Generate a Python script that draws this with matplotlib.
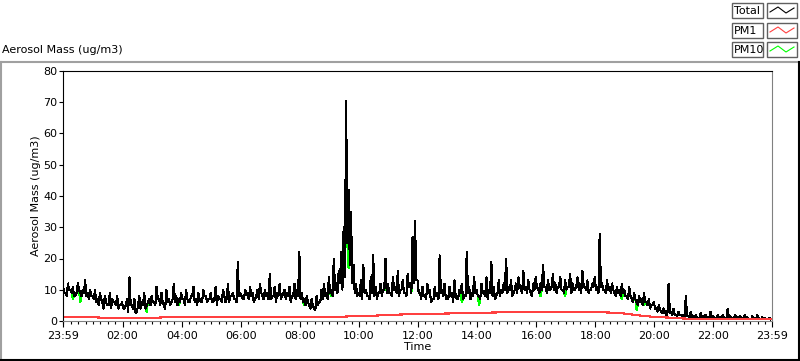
import numpy as np
import matplotlib
matplotlib.use("Agg")
import matplotlib.pyplot as plt
from matplotlib.patches import Rectangle
from matplotlib.lines import Line2D

# Total aerosol mass, readings every 5 minutes from 23:59 (12 per hour)
total_a = [
    11, 9, 12, 10, 11, 8, 12, 9, 10, 13, 9, 10,
    8, 10, 7, 9, 6, 8, 5, 9, 7, 6, 8, 5,
    6, 4, 7, 14, 5, 7, 3, 8, 6, 9, 5, 7,
    8, 6, 11, 7, 9, 5, 10, 7, 6, 12, 8, 7,
    9, 7, 10, 6, 8, 11, 7, 9, 6, 10, 8, 7,
    9, 6, 11, 8, 7, 10, 6, 12, 8, 9, 7, 19,
    9, 7, 10, 8, 11, 9, 7, 10, 12, 8, 10, 9,
    15, 8, 11, 9, 12, 8, 10, 9, 11, 8, 12, 10,
    22, 9, 7, 8, 5, 7, 4, 8, 6, 10, 12, 9,
    14, 10, 20, 12, 16, 22, 30, 70.5, 42, 35, 18, 12,
    9, 13, 18, 10, 8, 14, 21, 11, 9, 12, 10, 20,
    12, 9, 14, 11, 16, 10, 13, 9, 15, 12, 27, 32,
    13, 9, 11, 8, 12, 10, 7, 11, 9, 21, 10, 12,
    8, 11, 9, 13, 7, 10, 12, 8, 22, 11, 9, 14,
    10, 8, 12, 9, 14, 10, 19, 11, 8, 13, 10, 12,
    20, 11, 13, 9, 12, 14, 10, 16, 11, 13, 9, 12,
    14, 10, 12, 18, 11, 13, 10, 15, 12, 11, 14, 10,
    13, 11, 15, 12, 10, 14, 12, 16, 11, 13, 10, 12,
    14, 11, 28, 12, 10, 13, 11, 12, 9, 11, 10, 12,
    10, 8, 11, 7, 9, 6, 8, 7, 9, 6, 7, 5,
    6, 4, 5, 3, 4, 2, 12, 3, 4, 2, 3, 2,
    2, 8, 1.5, 3, 1.5, 2, 1, 2.5, 1.5, 2, 1, 3,
    1.5, 1, 2, 1.2, 1.8, 1, 4, 1.5, 1, 2, 1.2, 1.5,
    1, 2, 1.2, 0.8, 1.5, 1, 2, 0.8, 1.2, 1, 0.8, 1,
]

# readings taken 2.5 minutes after each of the above
total_b = [
    9, 8, 10, 9, 8, 9, 10, 8, 9, 8, 7, 8,
    7, 6, 5, 7, 4, 6, 5, 4, 6, 5, 4, 5,
    4, 5, 3, 5, 4, 2.5, 5, 4, 5, 4, 6, 5,
    6, 5, 7, 5, 6, 4, 6, 5, 7, 6, 5, 6,
    7, 5, 7, 6, 8, 6, 5, 7, 6, 8, 6, 7,
    6, 7, 5, 7, 6, 8, 7, 6, 8, 7, 6, 8,
    8, 7, 9, 7, 8, 6, 8, 7, 9, 7, 8, 7,
    7, 8, 6, 8, 7, 9, 7, 8, 6, 8, 7, 8,
    7, 6, 5, 6, 4, 5, 3.5, 5, 6, 7, 8, 7,
    9, 8, 10, 9, 12, 10, 14, 25, 18, 12, 9, 8,
    8, 7, 9, 8, 7, 9, 8, 7, 9, 8, 10, 9,
    9, 8, 10, 9, 8, 10, 9, 8, 11, 9, 12, 13,
    9, 7, 8, 7, 9, 6, 7, 8, 7, 9, 8, 7,
    7, 8, 6, 8, 7, 9, 7, 8, 9, 7, 8, 9,
    8, 7, 9, 8, 7, 9, 8, 7, 9, 8, 9, 10,
    9, 10, 8, 10, 9, 11, 9, 10, 9, 10, 8, 10,
    11, 9, 10, 11, 9, 10, 11, 10, 9, 11, 10, 9,
    10, 11, 9, 10, 11, 10, 9, 11, 10, 9, 10, 11,
    10, 9, 11, 10, 9, 10, 9, 10, 8, 9, 8, 9,
    8, 7, 8, 6, 7, 5, 6, 5, 6, 5, 4, 5,
    4, 3, 3.5, 2.5, 3, 2, 2.5, 2, 1.8, 1.5, 1.8, 1.5,
    1.2, 1.5, 1, 1.3, 0.9, 1.2, 0.8, 1.1, 0.9, 1.2, 0.8, 1,
    0.9, 0.7, 1, 0.8, 0.9, 0.7, 1, 0.8, 0.7, 0.9, 0.6, 0.8,
    0.7, 0.8, 0.6, 0.5, 0.7, 0.6, 0.8, 0.5, 0.6, 0.5, 0.6, 0.5,
]

# PM10 follows Total except at these 5-minute readings
pm10_idx = [4, 7, 34, 47, 66, 78, 98, 109, 116, 131, 142, 143, 162, 169, 194, 204, 227, 233, 236]
pm10_val = [7, 6, 3, 5, 6, 7, 5, 8, 17, 15, 16, 16, 6, 5, 8, 8, 7, 3.5, 5]

# PM1, one reading every 30 minutes
pm1 = [
    1.2, 1.2, 1.2, 1.0, 1.0, 1.1, 1.0, 1.2, 1.2, 1.2, 1.2, 1.2,
    1.2, 1.2, 1.2, 1.2, 1.2, 1.3, 1.3, 1.4, 1.6, 1.7, 1.9, 2.1,
    2.3, 2.3, 2.4, 2.5, 2.6, 2.7, 2.8, 2.9, 3.0, 3.0, 3.0, 2.9,
    2.9, 2.7, 2.4, 1.8, 1.3, 1.1, 0.8, 0.7, 0.6, 0.6, 0.5, 0.5,
    0.5,
]

tick_labels = ["23:59", "02:00", "04:00", "06:00", "08:00", "10:00", "12:00",
               "14:00", "16:00", "18:00", "20:00", "22:00", "23:59"]
tick_hours = [0] + [2 * k + 1 / 60 for k in range(1, 12)] + [24]

# interleave the two reading sets into one 2.5-minute series
n = len(total_a)
total = np.empty(2 * n)
total[0::2] = total_a
total[1::2] = total_b
pm10 = total.copy()
pm10[[2 * i for i in pm10_idx]] = pm10_val
t_total = np.arange(2 * n) / 24.0
t_pm1 = np.arange(len(pm1)) / 2.0

W, H = 800, 361
fig = plt.figure(figsize=(W / 100, H / 100), dpi=100)
plt.rcParams['font.family'] = ['DejaVu Sans']


def px(x, y):
    return x / W, 1 - y / H


ax = fig.add_axes([63 / W, (H - 321) / H, 709 / W, 250 / H])
ax.plot(t_total, pm10, color="#00ff00", lw=0.8, antialiased=False)
ax.plot(t_total, total, color="black", lw=0.8, antialiased=False)
ax.plot(t_pm1, pm1, color="#ff4040", lw=0.8, antialiased=False)

ax.set_xlim(0, 24)
ax.set_ylim(0, 80)
ax.set_yticks(range(0, 81, 10))
ax.set_xticks(tick_hours)
ax.set_xticklabels(tick_labels)
ax.set_xticks(np.arange(1 / 60, 24, 0.25), minor=True)
ax.tick_params(axis="y", length=3, width=0.8, labelsize=8, pad=1)
ax.tick_params(axis="x", which="major", length=4, width=0.8, labelsize=8, pad=3)
ax.tick_params(axis="x", which="minor", length=2.5, width=0.8)
for s in ["left", "top"]:
    ax.spines[s].set_color("black")
for s in ["right", "bottom"]:
    ax.spines[s].set_color("#808080")
for s in ax.spines.values():
    s.set_linewidth(0.8)
ax.set_xlabel("Time", fontsize=8, labelpad=1)
ax.set_ylabel("Aerosol Mass (ug/m3)", fontsize=8, labelpad=2)

# outer panel frame
fig.add_artist(Line2D([0, 1], [px(0, 62)[1]] * 2, color="#a0a0a0", lw=1.5))
fig.add_artist(Line2D([0.001, 0.001], [0, px(0, 62)[1]], color="#a0a0a0", lw=1.5))
fig.add_artist(Line2D([px(799, 0)[0]] * 2, [0, px(0, 62)[1]], color="black", lw=1.5))
fig.add_artist(Line2D([0, 1], [0.002, 0.002], color="black", lw=1.5))
fig.text(*px(2, 50), "Aerosol Mass (ug/m3)", fontsize=8, va="center", ha="left")

# legend
names = ["Total", "PM1", "PM10"]
colors = ["black", "#ff4040", "#00ff00"]
tops = [3, 23, 42]
for name, c, top in zip(names, colors, tops):
    x0, y0 = px(732, top + 15)
    fig.add_artist(Rectangle((x0, y0), 31 / W, 15 / H, facecolor="white",
                             edgecolor="#606060", lw=1))
    fig.text(*px(733.5, top + 8), name, fontsize=8, va="center", ha="left")
    x1, _ = px(767, 0)
    fig.add_artist(Rectangle((x1, y0), 30 / W, 15 / H, facecolor="white",
                             edgecolor="#606060", lw=1))
    zx = [770, 778, 786, 794]
    zy = [top + 9, top + 4, top + 10, top + 5]
    fig.add_artist(Line2D([px(a, 0)[0] for a in zx], [px(0, b)[1] for b in zy],
                          color=c, lw=0.8))

fig.savefig("out.png", dpi=100)
